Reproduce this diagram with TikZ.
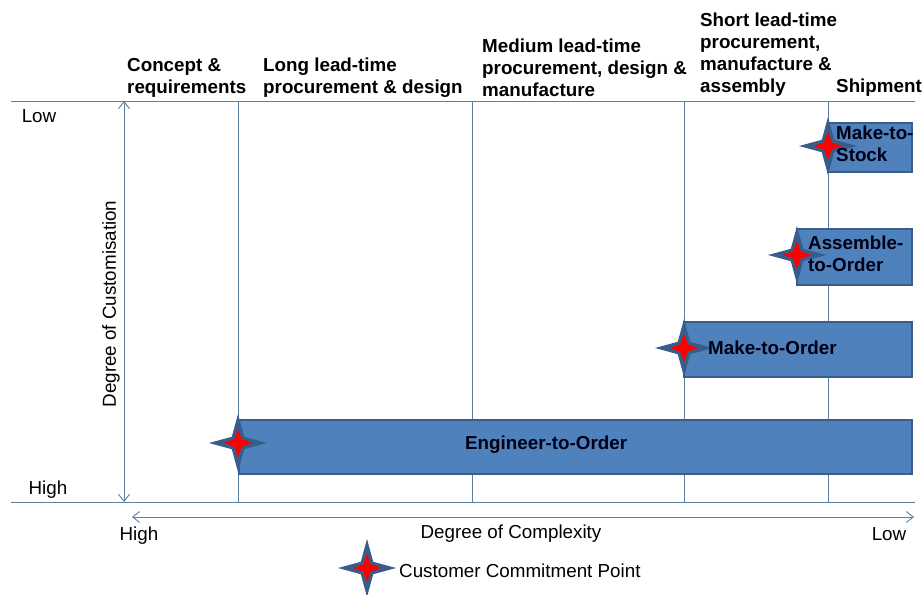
\documentclass[tikz,border=0pt]{standalone}
\usepackage{fontspec}
\setmainfont{Liberation Sans}
\usepackage{tikz}
\usetikzlibrary{shapes.geometric, arrows.meta}
\definecolor{linecol}{HTML}{5B7FA3}
\definecolor{barfill}{HTML}{4F81BD}
\definecolor{bardraw}{HTML}{385D8A}
\tikzset{
  axisline/.style={draw=linecol, line width=0.9pt},
  axisarrow/.style={axisline, {Straight Barb[length=7pt, width=11pt]}-{Straight Barb[length=7pt, width=11pt]}},
  bar/.style={draw=bardraw, fill=barfill, line width=2.2pt, anchor=north west, inner sep=0pt},
  barlabel/.style={font=\fontsize{18.8}{22}\selectfont\bfseries, text=black!92!blue, align=left, anchor=west, inner sep=0pt},
  head/.style={font=\fontsize{18.8}{22}\selectfont\bfseries, align=left, anchor=south west, inner sep=0pt},
  lab/.style={font=\fontsize{18.8}{22}\selectfont, inner sep=0pt},
  starout/.style={star, star points=4, star point ratio=3.3, fill=bardraw, minimum size=58pt, inner sep=0pt},
  starin/.style={star, star points=4, star point ratio=2.6, fill=red, minimum size=28pt, inner sep=0pt}
}
\begin{document}
\begin{tikzpicture}[x=1pt,y=-1pt]
\useasboundingbox (0,0) rectangle (923,594);
% frame
\coordinate (tl) at (11,101);
\coordinate (tr) at (915,101);
\coordinate (bl) at (11,502);
\coordinate (br) at (915,502);
\draw[axisline] (tl) -- (tr);
\draw[axisline] (bl) -- (br);
% stage lines
\coordinate (a1) at (238,101);
\coordinate (a2) at (238,502);
\coordinate (b1) at (472,101);
\coordinate (b2) at (472,502);
\coordinate (c1) at (684,101);
\coordinate (c2) at (684,502);
\coordinate (d1) at (828,101);
\coordinate (d2) at (828,502);
\draw[axisline] (a1) -- (a2);
\draw[axisline] (b1) -- (b2);
\draw[axisline] (c1) -- (c2);
\draw[axisline] (d1) -- (d2);
% axes
\coordinate (cust1) at (124,101);
\coordinate (cust2) at (124,502);
\coordinate (comp1) at (132,517);
\coordinate (comp2) at (914,517);
\draw[axisarrow] (cust1) -- (cust2);
\draw[axisarrow] (comp1) -- (comp2);
% stage headings
\node[head] (concept) at (127,98) {Concept \&\\requirements};
\node[head] (long) at (263,98) {Long lead-time\\procurement \& design};
\node[head] (medium) at (482,97) {Medium lead-time\\procurement, design \&\\manufacture};
\node[head] (short) at (700,97) {Short lead-time\\procurement,\\manufacture \&\\assembly};
\node[head] (ship) at (836,97) {Shipment};
% axis labels
\node[lab] (low1) at (39,116) {Low};
\node[lab] (high1) at (48,490) {High};
\node[lab] (high2) at (139,536) {High};
\node[lab] (low2) at (889,534) {Low};
\node[lab, rotate=90] (custom) at (111,304) {Degree of Customisation};
\node[lab] (complex) at (511,534) {Degree of Complexity};
% bars
\node[bar, minimum width=84pt, minimum height=49pt] (mts) at (827,122) {};
\node[bar, minimum width=115pt, minimum height=56pt] (ato) at (796,228) {};
\node[bar, minimum width=228pt, minimum height=55pt] (mto) at (683,321) {};
\node[bar, minimum width=673pt, minimum height=54pt] (eto) at (238,419) {};
% stars
\node[starout] (s1) at (828,146) {};
\node[starin] at (s1) {};
\node[starout] (s2) at (797,255) {};
\node[starin] at (s2) {};
\node[starout] (s3) at (684,348) {};
\node[starin] at (s3) {};
\node[starout] (s4) at (238,443) {};
\node[starin] at (s4) {};
\node[starout] (s5) at (367,568) {};
\node[starin] at (s5) {};
% bar labels
\node[barlabel] (mtsl) at (836,144) {Make-to-\\Stock};
\node[barlabel] (atol) at (808,254) {Assemble-\\to-Order};
\node[barlabel] (mtol) at (708,348) {Make-to-Order};
\node[barlabel] (etol) at (465,445) {Engineer-to-Order};
% legend
\node[lab, anchor=west] (legend) at (399,571) {Customer Commitment Point};
\end{tikzpicture}
\end{document}
